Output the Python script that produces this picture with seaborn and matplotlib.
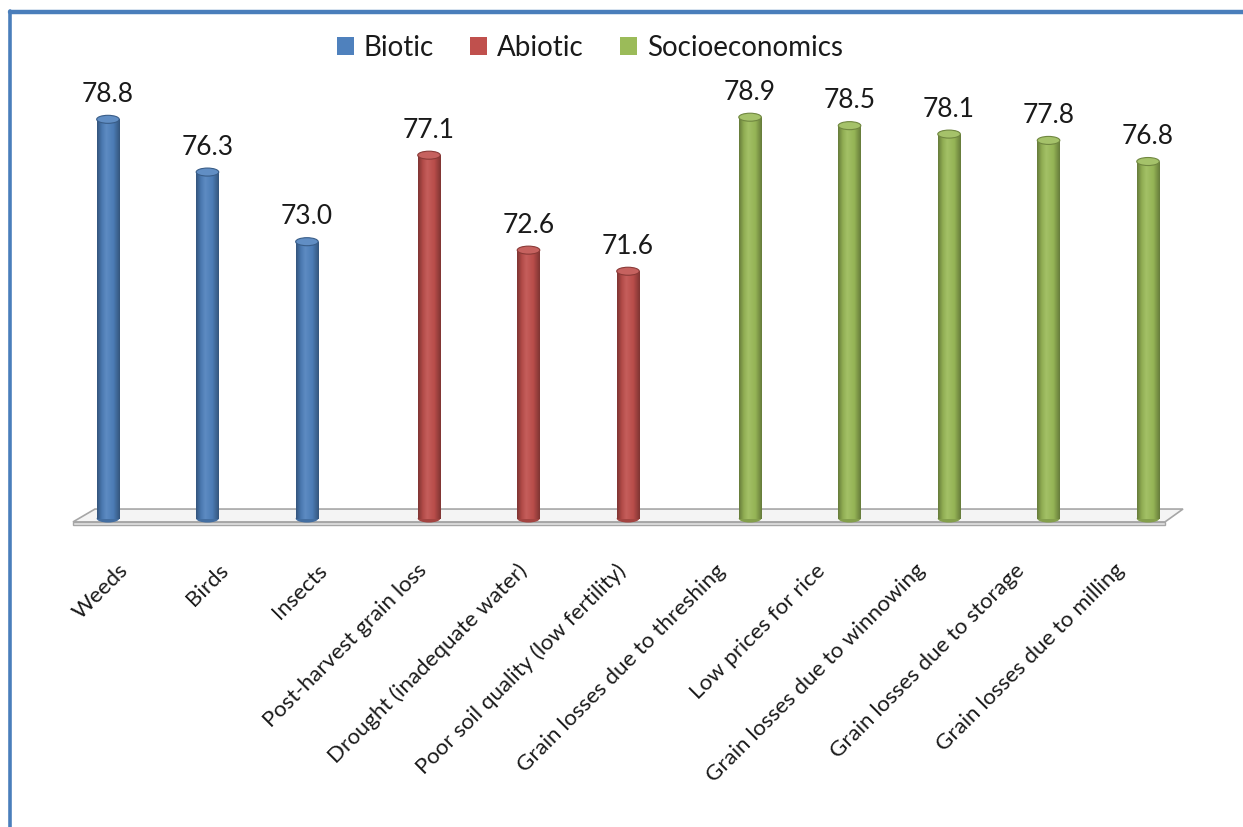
import numpy as np
import pandas as pd
import matplotlib
matplotlib.use("Agg")
import matplotlib.pyplot as plt
import matplotlib.transforms as mtransforms
from matplotlib.colors import LinearSegmentedColormap, to_rgb
from matplotlib.patches import Ellipse, Polygon, Rectangle
from matplotlib.lines import Line2D
import seaborn as sns

# Constraint scores by factor
categories = [
    "Weeds", "Birds", "Insects",
    "Post-harvest grain loss", "Drought (inadequate water)",
    "Poor soil quality (low fertility)",
    "Grain losses due to threshing", "Low prices for rice",
    "Grain losses due to winnowing", "Grain losses due to storage",
    "Grain losses due to milling",
]
groups = ["Biotic", "Biotic", "Biotic",
          "Abiotic", "Abiotic", "Abiotic",
          "Socioeconomics", "Socioeconomics", "Socioeconomics",
          "Socioeconomics", "Socioeconomics"]
values = [78.8, 76.3, 73.0, 77.1, 72.6, 71.6, 78.9, 78.5, 78.1, 77.8, 76.8]
group_order = ["Biotic", "Abiotic", "Socioeconomics"]
group_colors = ["#4F81BD", "#C0504D", "#9BBB59"]

df = pd.DataFrame({"factor": categories, "group": groups, "score": values})

sns.set_theme(style="white")
plt.rcParams["font.family"] = ["Lato", "DejaVu Sans"]

W, H = 1243, 827
fig = plt.figure(figsize=(W / 100, H / 100), dpi=100)
ax = fig.add_axes([73 / W, (H - 516) / H, 1110 / W, 422 / H])

bar_width = 0.68
sns.barplot(data=df, x="factor", y="score", hue="group",
            order=categories, hue_order=group_order,
            palette=dict(zip(group_order, group_colors)),
            width=bar_width, dodge=True, saturation=1, linewidth=0,
            errorbar=None, ax=ax)

ymin, ymax = 60, 80
xmin, xmax = -0.578, 10.578
bars = [p for p in ax.patches if isinstance(p, Rectangle) and p.get_height() > 0]

# floor of the 3-D plot area
floor_front, floor_back, floor_face = 59.72, 60.33, 59.57
floor = Polygon([(xmin, floor_front), (10.397, floor_front),
                 (xmax, floor_back), (-0.357, floor_back)],
                closed=True, facecolor="#F4F4F4", edgecolor="#A6A6A6",
                linewidth=1.2, clip_on=False, zorder=1)
face = Polygon([(xmin, floor_front), (10.397, floor_front),
                (10.397, floor_face), (xmin, floor_face)],
               closed=True, facecolor="#E4E4E4", edgecolor="#A6A6A6",
               linewidth=1.0, clip_on=False, zorder=1)
ax.add_patch(floor)
ax.add_patch(face)


def shade(rgb, k):
    rgb = np.array(rgb)
    if k < 1:
        return tuple(rgb * k)
    return tuple(rgb + (1 - rgb) * (k - 1))


# cylinder shading across each bar, with elliptical top and bottom
grad = np.linspace(0, 1, 64).reshape(1, -1)
cap_h = 0.38
for p in bars:
    base = to_rgb(p.get_facecolor())
    x0, w, top = p.get_x(), p.get_width(), p.get_height()
    xc = x0 + w / 2
    cmap = LinearSegmentedColormap.from_list(
        "cyl", [(0.0, shade(base, 0.66)), (0.2, shade(base, 0.92)),
                (0.4, shade(base, 1.08)), (0.72, shade(base, 0.96)),
                (1.0, shade(base, 0.66))])
    p.set_zorder(2)
    p.set_clip_on(False)
    p.set_y(ymin - 0.12)
    p.set_height(top - ymin + 0.12)
    img = ax.imshow(grad, extent=(x0, x0 + w, ymin - 0.12, top), aspect="auto",
                    cmap=cmap, zorder=3, interpolation="bilinear")
    img.set_clip_path(p)
    bottom = Ellipse((xc, ymin - 0.12), w, cap_h, facecolor=shade(base, 0.85),
                     edgecolor="none", zorder=2, clip_on=False)
    ax.add_patch(bottom)
    cap = Ellipse((xc, top), w, cap_h, facecolor=shade(base, 1.1),
                  edgecolor=shade(base, 0.72), linewidth=0.8, zorder=4,
                  clip_on=False)
    ax.add_patch(cap)

# value labels above each cylinder
for i, (v, g) in enumerate(zip(values, groups)):
    off = (group_order.index(g) - 1) * bar_width / 3
    ax.annotate(f"{v:.1f}", xy=(i + off, v), xytext=(0, 12.5),
                textcoords="offset points", ha="center", va="baseline",
                fontsize=19, color="#1a1a1a", zorder=5)

ax.set_xlim(xmin, xmax)
ax.set_ylim(ymin, ymax)
ax.set_xlabel("")
ax.set_ylabel("")
ax.set_yticks([])
for s in ax.spines.values():
    s.set_visible(False)
ax.set_facecolor("none")

ax.tick_params(axis="x", length=0, pad=37, labelsize=16, labelcolor="#1a1a1a")
ax.set_xticks(range(len(categories)))
ax.set_xticklabels(categories)
shift = mtransforms.ScaledTranslation(-5 / 100, 0, fig.dpi_scale_trans)
for lab in ax.get_xticklabels():
    lab.set_rotation(45)
    lab.set_ha("right")
    lab.set_va("center")
    lab.set_rotation_mode("anchor")
    lab.set_transform(lab.get_transform() + shift)

handles, labels = ax.get_legend_handles_labels()
if ax.get_legend() is not None:
    ax.get_legend().remove()
fig.legend(handles, labels, loc="center", bbox_to_anchor=(590 / W, 1 - 48 / H),
           ncol=3, frameon=False, fontsize=20, handlelength=0.62,
           handleheight=0.62, handletextpad=0.35, columnspacing=1.3,
           labelcolor="#1a1a1a")

# outer border (top and left edges)
bc = "#4A7EBB"
fig.add_artist(Line2D([10.5 / W, 10.5 / W], [0, 1 - 10.5 / H], color=bc,
                      linewidth=2.6, transform=fig.transFigure))
fig.add_artist(Line2D([9.5 / W, 1], [1 - 11.5 / H, 1 - 11.5 / H], color=bc,
                      linewidth=3.2, transform=fig.transFigure))

fig.savefig("out.png", dpi=100, facecolor="white")
